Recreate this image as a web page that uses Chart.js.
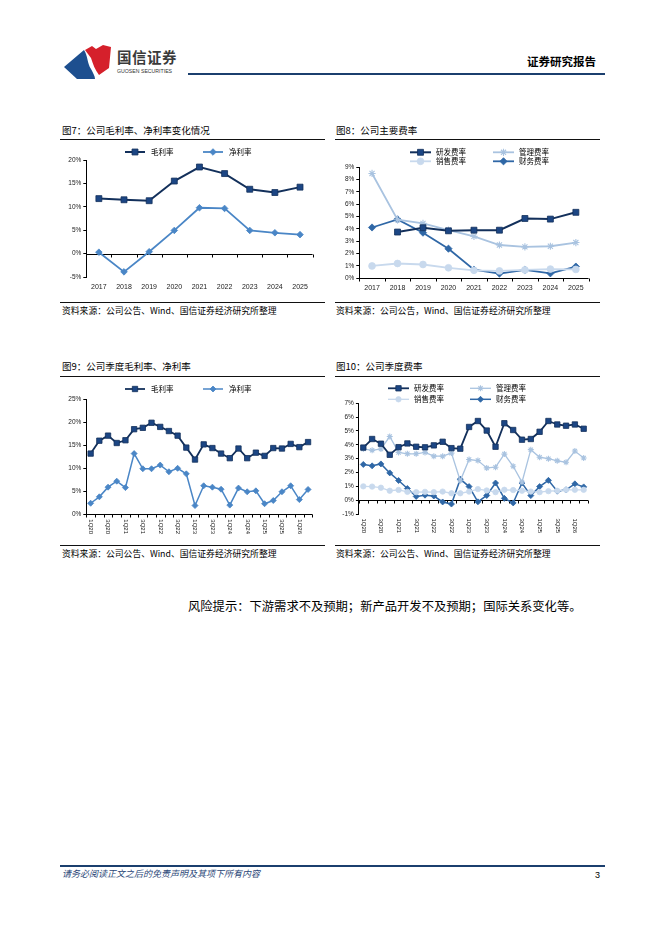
<!DOCTYPE html>
<html>
<head>
<meta charset="utf-8">
<script src="https://cdn.jsdelivr.net/npm/chart.js@4.4.1/dist/chart.umd.min.js"></script>
<style>
  body { margin: 0; background: #fff; width: 662px; height: 936px; position: relative; overflow: hidden; font-family: "Noto Sans CJK SC", sans-serif; }
  .t { position: absolute; white-space: nowrap; line-height: 1; color: #000; }
  .title { font-size: 9.5px; }
  .src { font-size: 8.8px; }
  .rule { position: absolute; height: 1.3px; background: #111; }
  canvas { position: absolute; }
</style>
</head>
<body>

<!-- header -->
<svg class="t" style="left:64px;top:44px" width="50" height="36" viewBox="0 0 50 36">
  <path d="M0,23 L20,6 C24,12 23,19 27,25 C29,29 31,32 31,35 L13,35 Z" fill="#1d4f8f"/>
  <path d="M21,6 L28,2 L32,5 L39,1 L47,3 L45,24 L35,31 C31,26 29,20 27,14 Z" fill="#d5202b"/>
</svg>
<div class="t" style="left:117px;top:50px;font-size:14.5px;font-weight:bold;color:#3a3a3a;letter-spacing:0.5px">国信证券</div>
<div class="t" style="left:117px;top:69px;font-size:5.2px;color:#333;font-family:'Liberation Sans'">GUOSEN SECURITIES</div>
<div class="t" style="left:527px;top:56px;font-size:11.5px;font-weight:bold">证券研究报告</div>
<div class="rule" style="left:188px;top:73px;width:417px;height:2px;background:#1b3f6e"></div>

<!-- chart titles and rules -->
<div class="t title" style="left:62px;top:126px">图7：公司毛利率、净利率变化情况</div>
<div class="rule" style="left:60px;top:139px;width:265px"></div>
<div class="t title" style="left:336px;top:126px">图8：公司主要费率</div>
<div class="rule" style="left:335px;top:139px;width:265px"></div>
<div class="rule" style="left:60px;top:302px;width:265px"></div>
<div class="t src" style="left:62px;top:307px">资料来源：公司公告、Wind、国信证券经济研究所整理</div>
<div class="rule" style="left:335px;top:302px;width:265px"></div>
<div class="t src" style="left:336px;top:307px">资料来源：公司公告，Wind、国信证券经济研究所整理</div>

<div class="t title" style="left:62px;top:362px">图9：公司季度毛利率、净利率</div>
<div class="rule" style="left:60px;top:376px;width:265px"></div>
<div class="t title" style="left:336px;top:362px">图10：公司季度费率</div>
<div class="rule" style="left:335px;top:376px;width:265px"></div>
<div class="rule" style="left:60px;top:545px;width:265px"></div>
<div class="t src" style="left:62px;top:550px">资料来源：公司公告、Wind、国信证券经济研究所整理</div>
<div class="rule" style="left:335px;top:545px;width:265px"></div>
<div class="t src" style="left:336px;top:550px">资料来源：公司公告、Wind、国信证券经济研究所整理</div>

<canvas id="c7" width="265" height="157" style="left:60px;top:143px"></canvas>
<canvas id="c8" width="265" height="157" style="left:335px;top:143px"></canvas>
<canvas id="c9" width="265" height="165" style="left:60px;top:380px"></canvas>
<canvas id="c10" width="265" height="165" style="left:335px;top:380px"></canvas>

<div class="t" style="left:188px;top:600px;font-size:12.3px">风险提示：下游需求不及预期；新产品开发不及预期；国际关系变化等。</div>

<!-- footer -->
<div class="rule" style="left:60px;top:865px;width:545px;height:1.5px;background:#1b3f6e"></div>
<div class="t" style="left:62px;top:869px;font-size:9px;font-style:italic;color:#2b4778">请务必阅读正文之后的免责声明及其项下所有内容</div>
<div class="t" style="left:595px;top:871px;font-size:9px;font-family:'Liberation Sans'">3</div>

<script>
const years = ['2017', '2018', '2019', '2020', '2021', '2022', '2023', '2024', '2025'];
const grossYear = [11.75, 11.5, 11.3, 15.5, 18.5, 17.1, 13.75, 13.05, 14.2];
const netYear = [0.3, -3.9, 0.4, 4.95, 9.8, 9.65, 4.95, 4.45, 4.05];

const rdYear = [null, 3.75, 4.1, 3.85, 3.9, 3.9, 4.85, 4.8, 5.35];
const adminYear = [8.5, 4.75, 4.45, 3.9, 3.4, 2.7, 2.55, 2.6, 2.9];
const salesYear = [1.0, 1.2, 1.12, 0.85, 0.65, 0.6, 0.68, 0.75, 0.72];
const finYear = [4.12, 4.78, 3.7, 2.4, 0.7, 0.38, 0.68, 0.4, 0.95];

const quarters = ['1Q20', '2Q20', '3Q20', '4Q20', '1Q21', '2Q21', '3Q21', '4Q21',
    '1Q22', '2Q22', '3Q22', '4Q22', '1Q23', '2Q23', '3Q23', '4Q23',
    '1Q24', '2Q24', '3Q24', '4Q24', '1Q25', '2Q25', '3Q25', '4Q25', '1Q26', '2Q26'];
const grossQ = [13.2, 16.0, 17.1, 15.5, 16.1, 18.5, 18.8, 19.9, 19.0, 18.1, 17.1, 14.5, 11.9,
    15.2, 14.4, 13.2, 12.2, 14.3, 12.2, 13.4, 12.7, 14.4, 14.3, 15.3, 14.6, 15.7];
const netQ = [2.4, 3.8, 5.9, 7.2, 5.8, 13.2, 9.9, 9.9, 10.7, 9.25, 10.0, 8.8, 1.9,
    6.2, 5.9, 5.45, 2.0, 5.7, 4.9, 5.1, 2.3, 3.0, 4.9, 6.2, 3.2, 5.4];

const rdQ = [3.8, 4.42, 4.08, 3.28, 3.83, 4.1, 3.86, 3.82, 3.96, 4.22, 3.76, 3.72, 5.29,
    5.72, 5.03, 3.86, 5.56, 5.07, 4.37, 4.42, 4.94, 5.72, 5.47, 5.38, 5.47, 5.16];
const adminQ = [3.7, 3.6, 3.7, 4.6, 3.45, 3.35, 3.35, 3.45, 3.18, 3.18, 3.4, 1.4, 2.94,
    2.86, 2.33, 2.38, 3.33, 2.45, 1.3, 3.65, 3.1, 3.0, 2.84, 2.74, 3.55, 3.05];
const salesQ = [1.0, 0.98, 0.9, 0.68, 0.74, 0.6, 0.58, 0.6, 0.58, 0.62, 0.5, 0.5, 0.62,
    0.8, 0.7, 0.58, 0.75, 0.73, 0.68, 0.62, 0.58, 0.65, 0.68, 0.75, 0.75, 0.75];
const finQ = [2.58, 2.48, 2.62, 1.97, 1.42, 0.84, 0.27, 0.36, 0.3, -0.13, -0.28, 1.52, 0.98,
    -0.12, 0.34, 1.24, 0.13, -0.2, 1.24, 0.33, 0.98, 1.43, 0.65, 0.75, 1.18, 0.96];

const NAVY = '#13305b';
const NAVY_PT = '#1c4684';
const MID = '#4a86c6';
const FIN = '#2f67a6';
const LIGHT = '#a9c3e0';
const PALE = '#c8d9ed';

Chart.defaults.font.family = '"Liberation Sans", Arial, sans-serif';
Chart.defaults.animation = false;

// x axis line + tick marks drawn on the 0% level
const zeroAxis = {
    id: 'zeroAxis',
    beforeDatasetsDraw(chart) {
        const x = chart.scales.x, y = chart.scales.y, ctx = chart.ctx;
        const y0 = Math.round(y.getPixelForValue(0)) + 0.5;
        const half = (x.getPixelForValue(1) - x.getPixelForValue(0)) / 2;
        ctx.save();
        ctx.strokeStyle = '#000';
        ctx.lineWidth = 1;
        ctx.beginPath();
        ctx.moveTo(chart.chartArea.left, y0);
        ctx.lineTo(chart.chartArea.right, y0);
        for (let i = 0; i <= chart.data.labels.length; i++) {
            const px = Math.round(x.getPixelForValue(i) - half) + 0.5;
            ctx.moveTo(px, y0);
            ctx.lineTo(px, y0 + 3);
        }
        ctx.stroke();
        ctx.restore();
    }
};

// quarter labels, every other one, reading top to bottom
const vertLabels = {
    id: 'vertLabels',
    afterDraw(chart, args, opts) {
        const x = chart.scales.x, ctx = chart.ctx;
        ctx.save();
        ctx.font = '6px "Liberation Sans"';
        ctx.fillStyle = '#111';
        ctx.textAlign = 'left';
        ctx.textBaseline = 'middle';
        chart.data.labels.forEach((lab, i) => {
            if (i % 2) return;
            ctx.save();
            ctx.translate(x.getPixelForValue(i), chart.chartArea.bottom + opts.offset);
            ctx.rotate(Math.PI / 2);
            ctx.fillText(lab, 0, 0);
            ctx.restore();
        });
        ctx.restore();
    }
};

// legend with a line + marker sample, placed in a grid
const lineLegend = {
    id: 'lineLegend',
    afterDraw(chart, args, opts) {
        const ctx = chart.ctx;
        ctx.save();
        ctx.font = '7.5px "Noto Sans CJK SC"';
        ctx.textBaseline = 'middle';
        chart.data.datasets.forEach((ds, i) => {
            const x = opts.x[i % opts.x.length];
            const y = opts.y[Math.floor(i / opts.x.length)];
            ctx.strokeStyle = ds.borderColor;
            ctx.lineWidth = ds.borderWidth;
            ctx.beginPath();
            ctx.moveTo(x, y);
            ctx.lineTo(x + opts.lineW, y);
            ctx.stroke();
            ctx.fillStyle = ds.pointBackgroundColor;
            ctx.strokeStyle = ds.pointBorderColor;
            ctx.lineWidth = ds.pointBorderWidth;
            Chart.helpers.drawPoint(ctx, { pointStyle: ds.pointStyle, radius: ds.pointRadius, borderWidth: ds.pointBorderWidth }, x + opts.lineW / 2, y);
            ctx.fillStyle = '#000';
            ctx.fillText(ds.label, x + opts.lineW + opts.gap, y);
        });
        ctx.restore();
    }
};

function series(label, data, color, width, style, radius, fill) {
    return {
        label: label,
        data: data,
        borderColor: color,
        borderWidth: width,
        pointStyle: style,
        pointRadius: radius,
        pointHoverRadius: radius,
        pointBackgroundColor: fill || color,
        pointBorderColor: color,
        pointBorderWidth: style === 'star' ? 1.1 : 0.8,
        tension: 0,
        clip: false
    };
}

function yAxis(min, max, step, width) {
    return {
        min: min,
        max: max,
        ticks: { stepSize: step, padding: 2, color: '#222', font: { size: 6.5 }, callback: v => v + '%' },
        grid: { drawOnChartArea: false, drawTicks: true, tickLength: 3, tickColor: '#000' },
        border: { display: true, color: '#000', width: 1 },
        afterFit: s => { s.width = width; }
    };
}

function xAxis(height, pad, show) {
    return {
        offset: true,
        ticks: { display: show, padding: pad, color: '#222', font: { size: 7 }, maxRotation: 0, autoSkip: false },
        grid: { display: false, drawTicks: false },
        border: { display: false },
        afterFit: s => { s.height = height; }
    };
}

function makeChart(id, labels, datasets, y, x, padding, legend, extra) {
    const plugins = [zeroAxis, lineLegend];
    if (extra) plugins.push(vertLabels);
    return new Chart(document.getElementById(id), {
        type: 'line',
        data: { labels: labels, datasets: datasets },
        options: {
            responsive: false,
            layout: { padding: padding },
            scales: { x: x, y: y },
            plugins: {
                legend: { display: false },
                tooltip: { enabled: false },
                lineLegend: legend,
                vertLabels: extra || {}
            }
        },
        plugins: plugins
    });
}

makeChart('c7', years, [
    series('毛利率', grossYear, NAVY, 2, 'rect', 4.2, NAVY_PT),
    series('净利率', netYear, MID, 1.8, 'rectRot', 3.3)
], yAxis(-5, 20, 5, 26.3), xAxis(23, 5.8, true),
    { top: 17, right: 12.4, left: 0, bottom: 0 },
    { x: [65, 143], y: [9], lineW: 20, gap: 6 });

makeChart('c8', years, [
    series('研发费率', rdYear, NAVY, 2, 'rect', 4.2, NAVY_PT),
    series('管理费率', adminYear, LIGHT, 1.8, 'star', 3.6),
    series('销售费率', salesYear, PALE, 1.8, 'circle', 3.4),
    series('财务费率', finYear, FIN, 1.8, 'rectRot', 3.6)
], yAxis(0, 9, 1, 24.3), xAxis(21.7, 5.5, true),
    { top: 24.3, right: 11.4, left: 0, bottom: 0 },
    { x: [75, 158], y: [9.3, 18.3], lineW: 21, gap: 5 });

makeChart('c9', quarters, [
    series('毛利率', grossQ, NAVY, 1.8, 'rect', 3.8, NAVY_PT),
    series('净利率', netQ, MID, 1.5, 'rectRot', 3)
], yAxis(0, 25, 5, 26.3), xAxis(30.7, 0, false),
    { top: 19.3, right: 12.6, left: 0, bottom: 0 },
    { x: [65, 143], y: [9], lineW: 20, gap: 6 },
    { offset: 5 });

makeChart('c10', quarters, [
    series('研发费率', rdQ, NAVY, 1.8, 'rect', 3.8, NAVY_PT),
    series('管理费率', adminQ, LIGHT, 1.3, 'star', 3),
    series('销售费率', salesQ, PALE, 1.3, 'circle', 2.7),
    series('财务费率', finQ, FIN, 1.5, 'rectRot', 3)
], yAxis(-1, 7, 1, 23.9), xAxis(31, 0, false),
    { top: 23.3, right: 11.9, left: 0, bottom: 0 },
    { x: [53, 135], y: [8.3, 19.3], lineW: 21, gap: 5 },
    { offset: 4.5 });
</script>
</body>
</html>
